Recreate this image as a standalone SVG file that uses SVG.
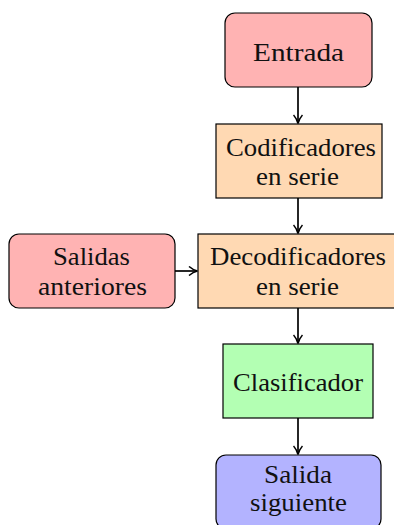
<svg xmlns="http://www.w3.org/2000/svg" width="394" height="525" viewBox="0 0 394 525">
<style>
.n{stroke:#000;stroke-width:1.2}
.t{font-family:"Liberation Serif","DejaVu Serif",serif;font-size:25px;text-anchor:middle;fill:#111}
.e{stroke:#000;stroke-width:1.7;fill:none;marker-end:url(#ah)}
</style>
<defs>
<marker id="ah" viewBox="0 0 10 10" refX="9" refY="5" markerWidth="10" markerHeight="10" markerUnits="userSpaceOnUse" orient="auto">
<path d="M1,0.5 Q5,4 9.5,5 Q5,6 1,9.5" fill="none" stroke="#000" stroke-width="1.5"/>
</marker>
</defs>
<rect width="394" height="525" fill="#fff"/>
<g id="connectors">
<line class="e" x1="298" y1="87" x2="298" y2="123"/>
<line class="e" x1="298" y1="198" x2="298" y2="233"/>
<line class="e" x1="175" y1="271" x2="197" y2="271"/>
<line class="e" x1="298" y1="308" x2="298" y2="343"/>
<line class="e" x1="298" y1="418" x2="298" y2="454"/>
</g>
<g id="entrada">
<rect class="n" x="225" y="13" width="147" height="74" rx="10" fill="#FFB3B3"/>
<text class="t" x="298.5" y="61" textLength="91" lengthAdjust="spacingAndGlyphs">Entrada</text>
</g>
<g id="codificadores">
<rect class="n" x="216" y="124" width="166" height="74" fill="#FFD9B3"/>
<text class="t" x="301" y="156" textLength="150" lengthAdjust="spacingAndGlyphs">Codificadores</text>
<text class="t" x="297.5" y="185" textLength="83" lengthAdjust="spacingAndGlyphs">en serie</text>
</g>
<g id="salidas-anteriores">
<rect class="n" x="9" y="234" width="166" height="74" rx="10" fill="#FFB3B3"/>
<text class="t" x="91.5" y="265" textLength="77" lengthAdjust="spacingAndGlyphs">Salidas</text>
<text class="t" x="92.5" y="295" textLength="109" lengthAdjust="spacingAndGlyphs">anteriores</text>
</g>
<g id="decodificadores">
<rect class="n" x="198" y="234" width="200" height="74" fill="#FFD9B3"/>
<text class="t" x="298" y="265" textLength="176" lengthAdjust="spacingAndGlyphs">Decodificadores</text>
<text class="t" x="297.5" y="295" textLength="83" lengthAdjust="spacingAndGlyphs">en serie</text>
</g>
<g id="clasificador">
<rect class="n" x="223" y="344" width="150" height="74" fill="#B3FFB3"/>
<text class="t" x="298" y="391" textLength="130" lengthAdjust="spacingAndGlyphs">Clasificador</text>
</g>
<g id="salida-siguiente">
<rect class="n" x="216" y="455" width="165" height="74" rx="10" fill="#B3B3FF"/>
<text class="t" x="298" y="483" textLength="68" lengthAdjust="spacingAndGlyphs">Salida</text>
<text class="t" x="298.5" y="511" textLength="97" lengthAdjust="spacingAndGlyphs">siguiente</text>
</g>
</svg>
